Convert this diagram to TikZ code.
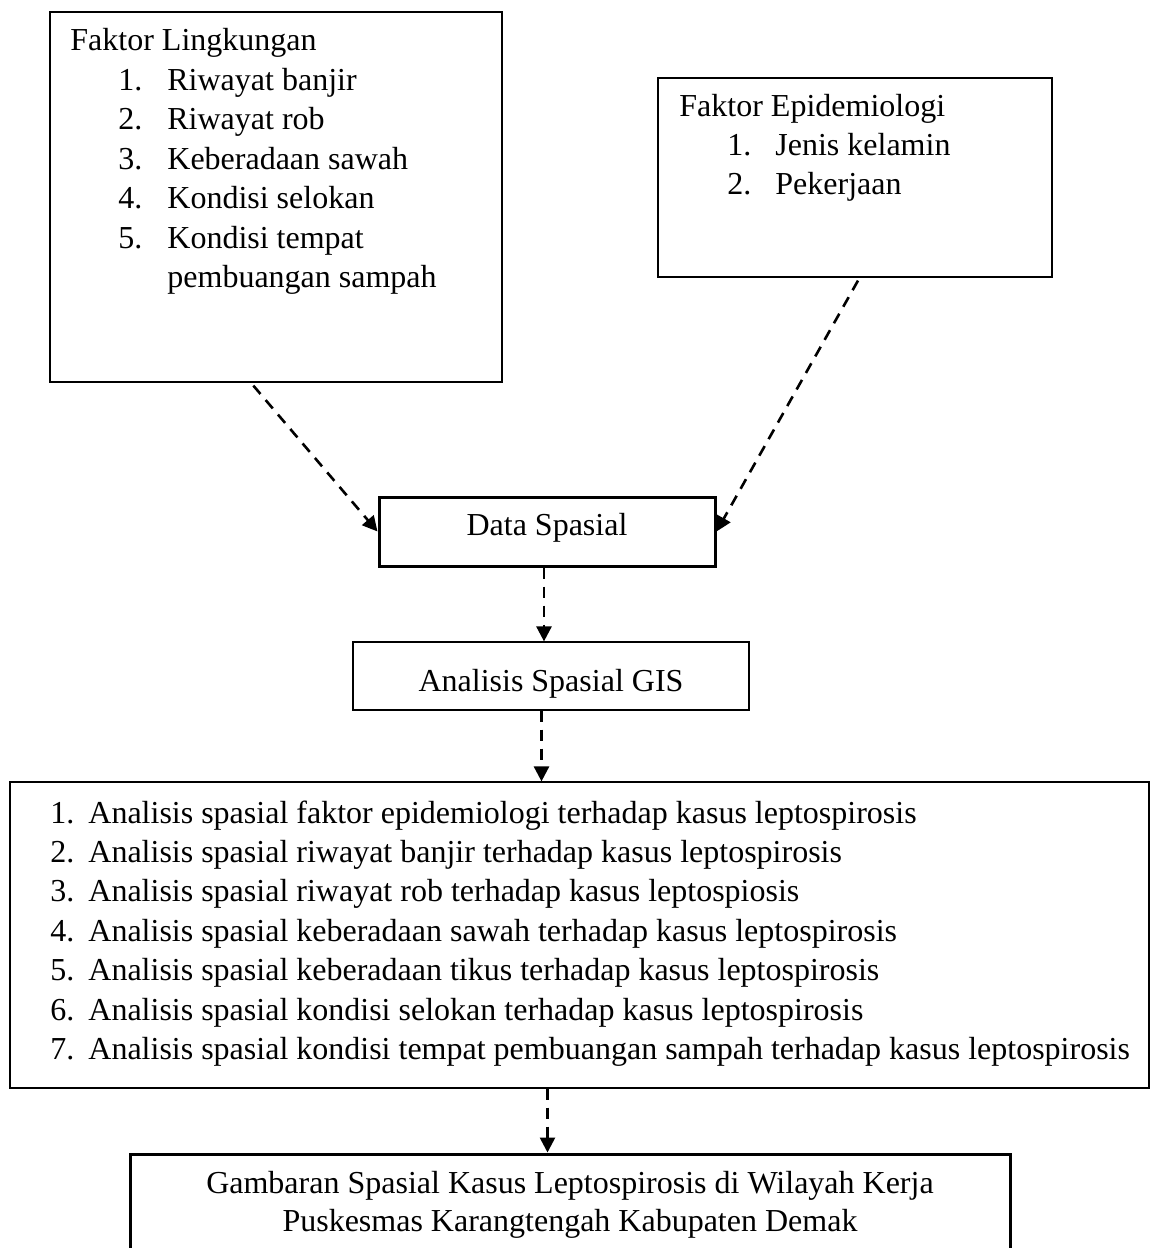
\documentclass[tikz,border=0pt]{standalone}
\usepackage{fontspec}
\setmainfont{Liberation Serif}
\usetikzlibrary{arrows.meta,fit,calc}
\begin{document}
\begin{tikzpicture}[x=0.5pt,y=-0.5pt,
  every node/.style={font=\fontsize{16pt}{19.7pt}\selectfont},
  thinbox/.style={draw, line width=0.6pt, inner sep=0pt},
  thickbox/.style={draw, line width=1.5pt, inner sep=0pt},
  txt/.style={anchor=base west, inner sep=0pt},
  ctxt/.style={anchor=base, inner sep=0pt},
  arr/.style={line width=1.3pt, dash pattern=on 5.5pt off 4pt, -{Triangle[length=7.5pt,width=7.5pt]}}]
\fill[white] (0,0) rectangle (1152,1248);
\useasboundingbox (0,0) rectangle (1152,1248);

% boxes
\node[thinbox, fit={(50,12) (502,382)}] (lk) {};
\node[thinbox, fit={(658,78) (1052,277)}] (ep) {};
\node[thickbox, fit={(379,497) (715,566)}] (ds) {};
\node[thinbox, fit={(353,642) (749,710)}] (gis) {};
\node[thinbox, fit={(10,782) (1149,1088)}] (ls) {};
\node[thickbox, fit={(130,1154) (1010,1280)}] (gb) {};

% Faktor Lingkungan
\node[txt] (lk0) at (70,50.7) {Faktor Lingkungan};
\node[txt] (lk1n) at (118,90.2) {1.};
\node[txt] (lk1) at (167,90.2) {Riwayat banjir};
\node[txt] (lk2n) at (118,129.7) {2.};
\node[txt] (lk2) at (167,129.7) {Riwayat rob};
\node[txt] (lk3n) at (118,169.2) {3.};
\node[txt] (lk3) at (167,169.2) {Keberadaan sawah};
\node[txt] (lk4n) at (118,208.7) {4.};
\node[txt] (lk4) at (167,208.7) {Kondisi selokan};
\node[txt] (lk5n) at (118,248.2) {5.};
\node[txt] (lk5) at (167,248.2) {Kondisi tempat};
\node[txt] (lk6) at (167,287.7) {pembuangan sampah};

% Faktor Epidemiologi
\node[txt] (ep0) at (679,116.7) {Faktor Epidemiologi};
\node[txt] (ep1n) at (727,155.6) {1.};
\node[txt] (ep1) at (775,155.6) {Jenis kelamin};
\node[txt] (ep2n) at (727,194.5) {2.};
\node[txt] (ep2) at (775,194.5) {Pekerjaan};

% Data Spasial / GIS
\node[ctxt] (dst) at (547,535) {Data Spasial};
\node[ctxt] (gist) at (551,691.7) {Analisis Spasial GIS};

% list
\node[txt] (l1n) at (50,823) {1.};
\node[txt] (l1) at (88,823) {Analisis spasial faktor epidemiologi terhadap kasus leptospirosis};
\node[txt] (l2n) at (50,862.4) {2.};
\node[txt] (l2) at (88,862.4) {Analisis spasial riwayat banjir terhadap kasus leptospirosis};
\node[txt] (l3n) at (50,901.8) {3.};
\node[txt] (l3) at (88,901.8) {Analisis spasial riwayat rob terhadap kasus leptospiosis};
\node[txt] (l4n) at (50,941.2) {4.};
\node[txt] (l4) at (88,941.2) {Analisis spasial keberadaan sawah terhadap kasus leptospirosis};
\node[txt] (l5n) at (50,980.6) {5.};
\node[txt] (l5) at (88,980.6) {Analisis spasial keberadaan tikus terhadap kasus leptospirosis};
\node[txt] (l6n) at (50,1020) {6.};
\node[txt] (l6) at (88,1020) {Analisis spasial kondisi selokan terhadap kasus leptospirosis};
\node[txt] (l7n) at (50,1059.4) {7.};
\node[txt] (l7) at (88,1059.4) {Analisis spasial kondisi tempat pembuangan sampah terhadap kasus leptospirosis};

% bottom
\node[ctxt] (gb1) at (570,1193) {Gambaran Spasial Kasus Leptospirosis di Wilayah Kerja};
\node[ctxt] (gb2) at (570,1231) {Puskesmas Karangtengah Kabupaten Demak};

% connectors
\draw[arr] ($(lk.south west)!0.45!(lk.south east)+(0,3)$) -- (ds.west);
\draw[arr] ($(ep.south)+(3,3)$) -- (ds.east);
\draw[arr] ([xshift=-1.5pt]ds.south) -- ([xshift=-1.5pt]ds.south |- gis.north);
\draw[arr] ([xshift=-4.75pt]gis.south) -- ([xshift=-4.75pt]gis.south |- ls.north);
\draw[arr] ([xshift=-16pt]ls.south) -- ([xshift=-16pt]ls.south |- gb.north);
\end{tikzpicture}
\end{document}
